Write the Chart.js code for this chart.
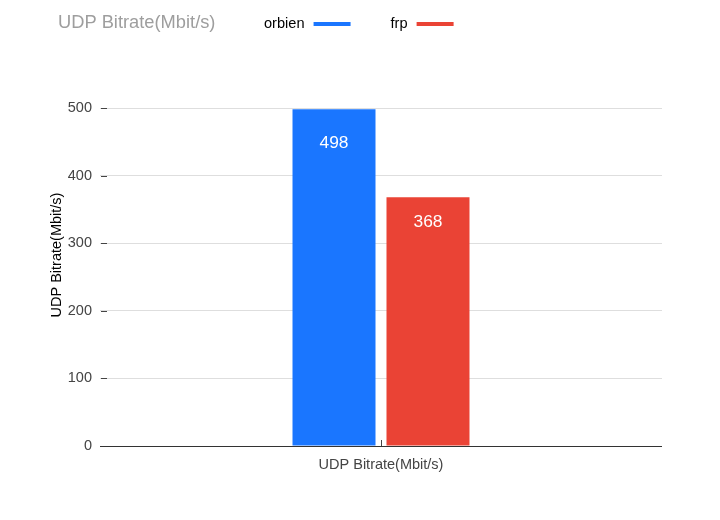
<!DOCTYPE html>
<html>
<head>
<meta charset="utf-8">
<script src="https://cdn.jsdelivr.net/npm/chart.js@4/dist/chart.umd.min.js"></script>
<style>
  html, body { margin: 0; padding: 0; background: #fff; }
  #wrap { width: 720px; height: 520px; }
</style>
</head>
<body>
<div id="wrap"><canvas id="c"></canvas></div>
<script>
const chartTitle = 'UDP Bitrate(Mbit/s)';
const categories = ['UDP Bitrate(Mbit/s)'];
const seriesNames = ['orbien', 'frp'];
const orbienValues = [498];
const frpValues = [368];
const seriesColors = ['#1a76ff', '#ea4335'];
const yTicks = [0, 100, 200, 300, 400, 500];

const FONT = '"Liberation Sans", Arial, Helvetica, sans-serif';

// title + legend (text first, colour line after it)
const headerPlugin = {
  id: 'header',
  afterDraw(chart) {
    const ctx = chart.ctx;
    ctx.save();
    ctx.textBaseline = 'middle';
    ctx.textAlign = 'left';
    ctx.font = '18.3px ' + FONT;
    ctx.fillStyle = '#9e9e9e';
    ctx.fillText(chartTitle, 58, 23);

    ctx.font = '14.6px ' + FONT;
    let x = 264;
    chart.data.datasets.forEach((ds, i) => {
      ctx.fillStyle = '#000';
      ctx.fillText(ds.label, x, 24);
      const w = ctx.measureText(ds.label).width;
      ctx.fillStyle = ds.backgroundColor;
      ctx.fillRect(x + w + 9, 22, 37, 4);
      x += w + 9 + 37 + 40;
    });

    // y axis title
    ctx.font = '14.5px ' + FONT;
    ctx.fillStyle = '#000';
    ctx.translate(57, 255);
    ctx.rotate(-Math.PI / 2);
    ctx.textAlign = 'center';
    ctx.fillText('UDP Bitrate(Mbit/s)', 0, 0);
    ctx.restore();
  }
};

// short tick marks drawn inside the plot, values inside bars
const marksPlugin = {
  id: 'marks',
  afterDatasetsDraw(chart) {
    const ctx = chart.ctx;
    const { left, bottom } = chart.chartArea;
    const y = chart.scales.y;
    const xs = chart.scales.x;
    ctx.save();
    ctx.strokeStyle = '#444';
    ctx.lineWidth = 1;
    y.ticks.forEach((t, i) => {
      if (t.value === 0) return;
      const py = Math.round(y.getPixelForTick(i)) + 0.5;
      ctx.beginPath();
      ctx.moveTo(left + 1, py);
      ctx.lineTo(left + 7, py);
      ctx.stroke();
    });
    xs.ticks.forEach((t, i) => {
      const px = Math.round(xs.getPixelForTick(i)) + 0.5;
      ctx.beginPath();
      ctx.moveTo(px, bottom);
      ctx.lineTo(px, bottom - 6);
      ctx.stroke();
    });
    // base line
    ctx.strokeStyle = '#333';
    ctx.beginPath();
    ctx.moveTo(left, Math.round(bottom) + 0.5);
    ctx.lineTo(chart.chartArea.right, Math.round(bottom) + 0.5);
    ctx.stroke();

    ctx.font = '17.4px ' + FONT;
    ctx.fillStyle = '#fff';
    ctx.textAlign = 'center';
    ctx.textBaseline = 'middle';
    chart.data.datasets.forEach((ds, di) => {
      chart.getDatasetMeta(di).data.forEach((bar, i) => {
        ctx.fillText(String(ds.data[i]), bar.x, bar.y + (bar.base - bar.y) * 0.1);
      });
    });
    ctx.restore();
  }
};

new Chart(document.getElementById('c'), {
  type: 'bar',
  data: {
    labels: categories,
    datasets: [
      { label: seriesNames[0], data: orbienValues, backgroundColor: seriesColors[0], borderWidth: 0 },
      { label: seriesNames[1], data: frpValues, backgroundColor: seriesColors[1], borderWidth: 0 }
    ]
  },
  options: {
    responsive: true,
    maintainAspectRatio: false,
    animation: false,
    devicePixelRatio: 1,
    layout: { padding: { top: 108, right: 58, bottom: 34, left: 0 } },
    categoryPercentage: 0.3345,
    barPercentage: 0.883,
    plugins: {
      legend: { display: false },
      title: { display: false },
      tooltip: { enabled: false }
    },
    scales: {
      x: {
        grid: { display: false, drawTicks: false },
        border: { display: false },
        ticks: { color: '#444', font: { family: FONT, size: 14.5 }, padding: 10 },
        afterFit(scale) { scale.height = 40; }
      },
      y: {
        min: yTicks[0],
        max: yTicks[yTicks.length - 1],
        afterBuildTicks(scale) { scale.ticks = yTicks.map(v => ({ value: v })); },
        grid: { color: '#dedede', drawTicks: false },
        border: { display: false },
        ticks: { color: '#444', font: { family: FONT, size: 14.5 }, padding: 8 },
        afterFit(scale) { scale.width = 100; }
      }
    }
  },
  plugins: [headerPlugin, marksPlugin]
});
</script>
</body>
</html>
